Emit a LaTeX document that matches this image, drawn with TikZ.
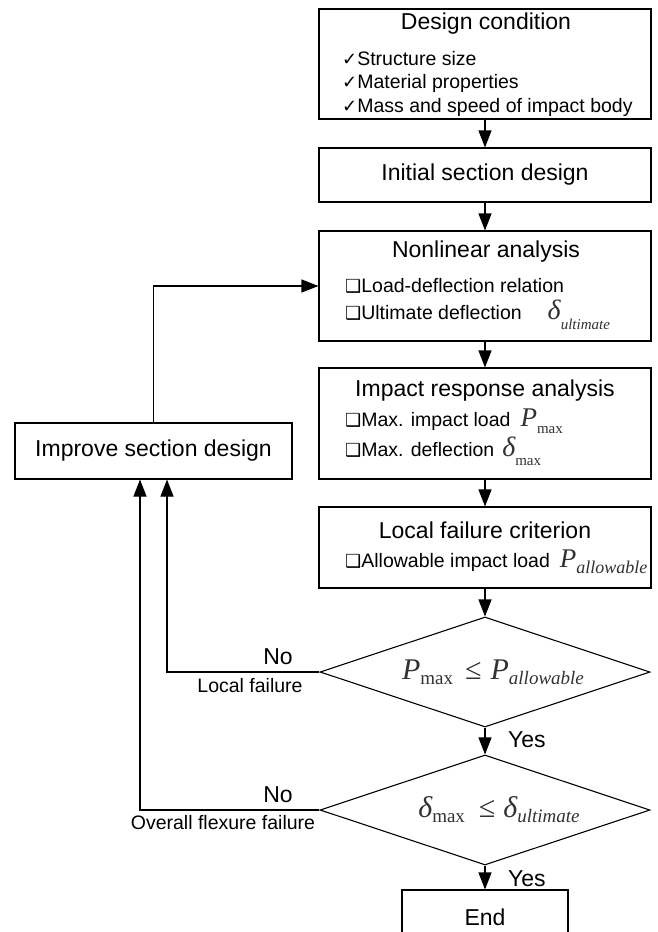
\documentclass[tikz,border=0pt]{standalone}
\usepackage{fontspec}
\setmainfont{Liberation Sans}
\newfontfamily\tnr{Liberation Serif}
\newfontfamily\djv{DejaVu Sans}
\usetikzlibrary{arrows.meta,shapes.geometric}
\definecolor{mathgray}{RGB}{50,50,50}
\newcommand{\ck}{{\djv\fontsize{18}{18}\selectfont ✓}}
\newcommand{\bx}{{\djv\fontsize{18}{18}\selectfont ❑}}
\newcommand{\bigit}[2]{{\color{mathgray}\tnr\fontsize{#1}{#1}\selectfont\itshape #2}}
\newcommand{\bigup}[2]{{\color{mathgray}\tnr\fontsize{#1}{#1}\selectfont #2}}
\newcommand{\subup}[3]{\raisebox{-#1}{\color{mathgray}\tnr\fontsize{#2}{#2}\selectfont #3}}
\newcommand{\subit}[3]{\raisebox{-#1}{\color{mathgray}\tnr\fontsize{#2}{#2}\selectfont\itshape #3}}
\tikzset{
  box/.style={draw, line width=1.1pt, inner sep=0pt, minimum width=332pt, fill=white},
  dia/.style={draw, line width=1.1pt, shape=diamond, inner sep=0pt, minimum width=330pt, minimum height=110pt},
  ttl/.style={inner sep=0pt, font=\fontsize{23}{23}\selectfont},
  itm/.style={inner sep=0pt, anchor=west, font=\fontsize{19.5}{19.5}\selectfont},
  lab/.style={inner sep=0pt, font=\fontsize{19.5}{19.5}\selectfont},
  arr/.style={line width=1.1pt, -{Triangle[length=17pt,width=13pt]}}
}
\begin{document}
\begin{tikzpicture}[x=1pt,y=-1pt]
\useasboundingbox (0,0) rectangle (657,932);
% main boxes
\node[box, minimum height=110pt] (b1) at (485,64) {};
\node[box, minimum height=54pt, font=\fontsize{23}{23}\selectfont] (b2) at (485,175) {Initial section design};
\node[box, minimum height=110pt] (b3) at (485,286) {};
\node[box, minimum height=111pt] (b4) at (485,423.5) {};
\node[box, minimum height=81pt] (b5) at (485,547.5) {};
\node[dia] (d1) at (485,672) {};
\node[dia] (d2) at (485,810) {};
\node[box, minimum width=166pt, minimum height=54pt, font=\fontsize{23}{23}\selectfont] (end) at (485,917) {End};
\node[box, minimum width=277pt, minimum height=56pt, font=\fontsize{23}{23}\selectfont] (imp) at (153.5,451) {Improve section design};
% box texts
\node[ttl] (t1) at (486,24) {Design condition};
\node[itm] (i11) at (342,59) {\ck Structure size};
\node[itm] (i12) at (342,83) {\ck Material properties};
\node[itm] (i13) at (342,107) {\ck Mass and speed of impact body};
\node[ttl] (t3) at (486,252) {Nonlinear analysis};
\node[itm] (i31) at (345,286) {\bx Load-deflection relation};
\node[itm] (i32) at (345,315) {\bx Ultimate deflection\hspace{26pt}\bigit{28}{δ}\subit{10pt}{15}{ultimate}};
\node[ttl] (t4) at (485,391) {Impact response analysis};
\node[itm] (i41) at (345,421) {\bx Max. impact load\hspace{10pt}\bigit{27}{P}\subup{7pt}{15}{max}};
\node[itm] (i42) at (345,451) {\bx Max. deflection\hspace{8pt}\bigit{28}{δ}\subup{9pt}{15}{max}};
\node[ttl] (t5) at (485,530) {Local failure criterion};
\node[itm] (i51) at (345,562) {\bx Allowable impact load\hspace{10pt}\bigit{27}{P}\subit{6pt}{18}{allowable}};
% decision texts
\node[inner sep=0pt] (m1) at (493,672) {\bigit{30}{P}\subup{5pt}{19}{max}\hspace{12pt}\bigup{30}{≤}\hspace{9pt}\bigit{30}{P}\subit{5pt}{19}{allowable}};
\node[inner sep=0pt] (m2) at (499,810) {\bigit{30}{δ}\subup{5pt}{19}{max}\hspace{14pt}\bigup{30}{≤}\hspace{8pt}\bigit{30}{δ}\subit{5pt}{19}{ultimate}};
% connectors
\draw[arr] (b1.south) -- (b2.north);
\draw[arr] (b2.south) -- (b3.north);
\draw[arr] (b3.south) -- (b4.north);
\draw[arr] (b4.south) -- (b5.north);
\draw[arr] (b5.south) -- (d1.north);
\draw[arr] (d1.south) -- (d2.north);
\draw[arr] (d2.south) -- (end.north);
\draw[arr] (d1.west) -| ([xshift=13.5pt]imp.south);
\draw[arr] (d2.west) -| ([xshift=-13.5pt]imp.south);
\draw[arr] (imp.north) |- (b3.west);
% labels
\node[lab, font=\fontsize{23}{23}\selectfont] (no1) at (278,657) {No};
\node[lab] (lf) at (250,686) {Local failure};
\node[lab, font=\fontsize{23}{23}\selectfont] (no2) at (278,795) {No};
\node[lab] (of) at (223,823) {Overall flexure failure};
\node[lab, anchor=west, font=\fontsize{23}{23}\selectfont] (y1) at (508,740) {Yes};
\node[lab, anchor=west, font=\fontsize{23}{23}\selectfont] (y2) at (508,879) {Yes};
\end{tikzpicture}
\end{document}
